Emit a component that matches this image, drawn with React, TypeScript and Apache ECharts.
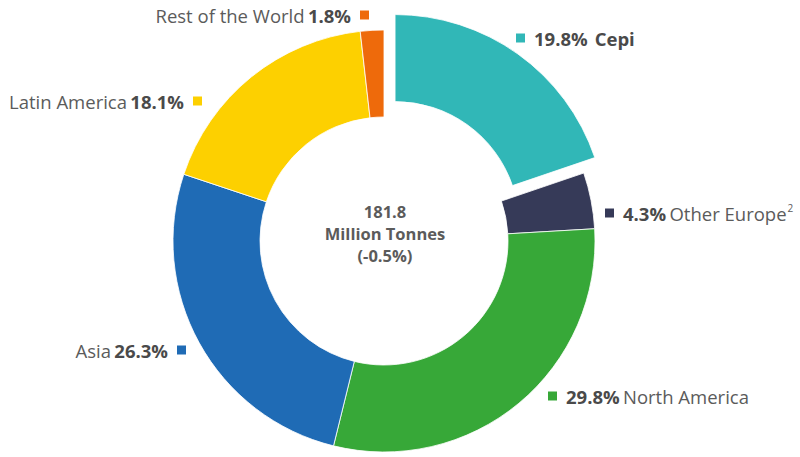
import React, { useEffect, useRef } from "react";
import * as echarts from "echarts";

const regions = ["Cepi", "Other Europe", "North America", "Asia", "Latin America", "Rest of the World"];
const shares = [19.8, 4.3, 29.8, 26.3, 18.1, 1.8];
const colors = ["#31b7b7", "#363a58", "#37a838", "#1f6bb5", "#fdd000", "#ee6a0b"];
const centerLines = ["181.8", "Million Tonnes", "(-0.5%)"];

const FONT = "'Open Sans', Lato, sans-serif";
const TXT = "#5b5b5b";
const BOLD = "#4a4a4a";

// label anchor: [x, y, align]
const labelAnchors: [number, number, "left" | "right"][] = [
  [516, 38, "left"],
  [605, 213, "left"],
  [548, 396, "left"],
  [186, 350, "right"],
  [202, 101, "right"],
  [369, 15, "right"],
];

export default function App() {
  const ref = useRef<HTMLDivElement>(null);
  useEffect(() => {
    if (!ref.current) return;
    const chart = echarts.init(ref.current, null, { renderer: "svg" });
    const sliceData = regions.map((name, i) => ({
      name,
      value: shares[i],
      selected: i === 0,
      itemStyle: { color: colors[i] },
    }));
    const labelData = regions.map((name, i) => {
      const pct = shares[i].toFixed(1) + "%";
      let fmt = "";
      if (i === 0) fmt = `{sq| }{sp| }{b|${pct}}{sp2| }{b|${name}}`;
      else if (i === 1) fmt = `{sq| }{sp| }{b|${pct}} {n|${name}}{sup|2}`;
      else if (i === 2) fmt = `{sq| }{sp| }{b|${pct}} {n|${name}}`;
      else fmt = `{n|${name}} {b|${pct}}{sp| }{sq| }`;
      return {
        name,
        value: shares[i],
        label: {
          formatter: fmt,
          rich: {
            sq: { width: 9, height: 9, backgroundColor: colors[i], fontSize: 8, lineHeight: 9 },
            sp: { width: 9, fontSize: 8 },
            sp2: { width: 7, fontSize: 8 },
            b: { fontFamily: FONT, fontSize: 18.5, fontWeight: "bold", color: BOLD, lineHeight: 22 },
            n: { fontFamily: FONT, fontSize: 18.5, color: TXT, lineHeight: 22 },
            sup: { fontFamily: FONT, fontSize: 10, color: TXT, padding: [0, 0, 10, 1] },
          },
        },
      };
    });
    chart.setOption({
      animation: false,
      series: [
        {
          type: "pie",
          center: [384, 241],
          radius: [124, 211],
          startAngle: 90,
          clockwise: true,
          selectedMode: "single",
          selectedOffset: 19,
          itemStyle: { borderColor: "#ffffff", borderWidth: 0.8 },
          label: { show: false },
          labelLine: { show: false },
          emphasis: { disabled: true },
          silent: true,
          data: sliceData,
        },
        {
          type: "pie",
          center: [384, 241],
          radius: [124, 211],
          startAngle: 90,
          clockwise: true,
          selectedMode: false,
          avoidLabelOverlap: false,
          silent: true,
          itemStyle: { color: "rgba(0,0,0,0)" },
          label: { show: true, position: "outside" },
          labelLine: { show: false },
          emphasis: { disabled: true },
          labelLayout: (params: any) => {
            const a = labelAnchors[params.dataIndex];
            return { x: a[0], y: a[1], align: a[2], verticalAlign: "middle" };
          },
          data: labelData,
        },
      ],
      graphic: [
        {
          type: "text",
          x: 385,
          y: 233,
          style: {
            text: centerLines.join("\n"),
            align: "center",
            verticalAlign: "middle",
            fontFamily: FONT,
            fontSize: 16.5,
            fontWeight: "bold",
            lineHeight: 22,
            fill: TXT,
          },
        },
      ],
    });
    return () => chart.dispose();
  }, []);
  return (
    <div style={{ position: "fixed", left: 0, top: 0, width: 800, height: 457, background: "#fff" }}>
      <div ref={ref} style={{ width: 800, height: 457 }} />
    </div>
  );
}
